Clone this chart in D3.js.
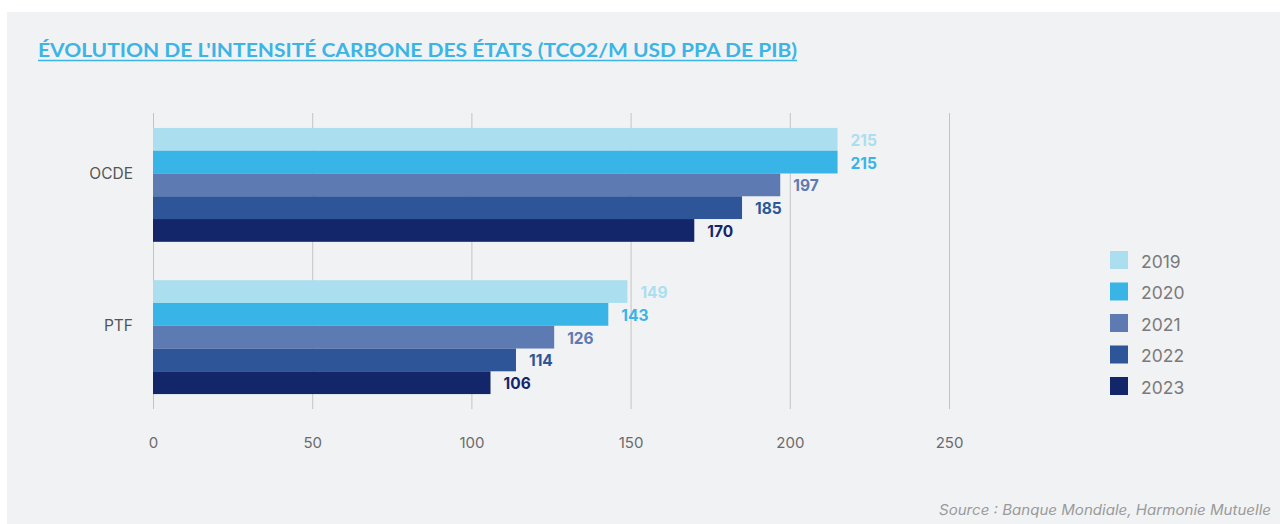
<!DOCTYPE html>
<html><head><meta charset="utf-8">
<script src="https://cdn.jsdelivr.net/npm/d3@7"></script>
<style>html,body{margin:0;padding:0;background:#fff;}svg{display:block;}</style>
</head><body>
<script>
const categories = ["OCDE", "PTF"];
const years = ["2019", "2020", "2021", "2022", "2023"];
const values2019 = [215, 149];
const values2020 = [215, 143];
const values2021 = [197, 126];
const values2022 = [185, 114];
const values2023 = [170, 106];
const xTicks = [0, 50, 100, 150, 200, 250];
const colors = ["#abdff0", "#38b5e6", "#5e7ab2", "#2d5598", "#14266a"];
const title = "ÉVOLUTION DE L'INTENSITÉ CARBONE DES ÉTATS (TCO2/M USD PPA DE PIB)";
const source = "Source : Banque Mondiale, Harmonie Mutuelle";

const seriesValues = [values2019, values2020, values2021, values2022, values2023];

const W = 1280, H = 524;
const svg = d3.select("body").append("svg").attr("width", W).attr("height", H);
svg.append("rect").attr("x", 7).attr("y", 12).attr("width", W - 7).attr("height", H - 12).attr("fill", "#f1f2f4");

const font = "Inter, 'Noto Sans', sans-serif";

// title
svg.append("text").attr("x", 38).attr("y", 57)
  .attr("font-family", "Lato, sans-serif").attr("font-weight", 700).attr("font-size", 19.5)
  .attr("fill", "#3bb5e6").attr("textLength", 759).attr("lengthAdjust", "spacingAndGlyphs")
  .text(title);
svg.append("line").attr("x1", 38).attr("x2", 797).attr("y1", 60.5).attr("y2", 60.5)
  .attr("stroke", "#3bb5e6").attr("stroke-width", 1.5);

const x = d3.scaleLinear().domain([0, 250]).range([153, 949]);
const y = d3.scaleBand().domain(categories).range([113, 409]).paddingInner(0.252).paddingOuter(0.098);
const ySub = d3.scaleBand().domain(years).range([0, y.bandwidth()]);

// gridlines
svg.append("g").selectAll("line").data(xTicks).join("line")
  .attr("x1", d => x(d) + 0.5).attr("x2", d => x(d) + 0.5)
  .attr("y1", 113).attr("y2", 409)
  .attr("stroke", "#c4c4c4").attr("stroke-width", 1);

// x axis labels
const xAxis = d3.axisBottom(x).tickValues(xTicks).tickSize(0).tickPadding(0);
const gx = svg.append("g").attr("transform", "translate(0,437)").call(xAxis);
gx.select(".domain").remove();
gx.selectAll("text").attr("font-family", font).attr("font-size", 15).attr("fill", "#6b6b6b");

// category labels
svg.append("g").selectAll("text").data(categories).join("text")
  .attr("x", 133).attr("y", d => y(d) + y.bandwidth() / 2 - 11.5)
  .attr("dy", "0.35em").attr("text-anchor", "end")
  .attr("font-family", font).attr("font-size", 15.5).attr("fill", "#555")
  .text(d => d);

// bars
years.forEach((yr, i) => {
  const g = svg.append("g");
  g.selectAll("rect").data(categories).join("rect")
    .attr("x", x(0)).attr("y", (d) => y(d) + ySub(yr))
    .attr("width", (d, j) => x(seriesValues[i][j]) - x(0))
    .attr("height", ySub.bandwidth())
    .attr("fill", colors[i]);
  g.selectAll("text").data(categories).join("text")
    .attr("x", (d, j) => x(seriesValues[i][j]) + 13)
    .attr("y", d => y(d) + ySub(yr) + ySub.bandwidth() / 2 + 1)
    .attr("dy", "0.36em")
    .attr("font-family", font).attr("font-weight", 700).attr("font-size", 15.5)
    .attr("fill", colors[i])
    .text((d, j) => seriesValues[i][j]);
});

// legend
const lg = svg.append("g").selectAll("g").data(years).join("g")
  .attr("transform", (d, i) => `translate(1110,${251 + i * 31.5})`);
lg.append("rect").attr("width", 18).attr("height", 18).attr("fill", (d, i) => colors[i]);
lg.append("text").attr("x", 31).attr("y", 10.5).attr("dy", "0.36em")
  .attr("font-family", font).attr("font-size", 17.5).attr("fill", "#7a7a7a").text(d => d);

// source
svg.append("text").attr("x", 1271).attr("y", 515).attr("text-anchor", "end")
  .attr("font-family", font).attr("font-style", "italic").attr("font-size", 14)
  .attr("fill", "#9a9a9a").attr("textLength", 332).attr("lengthAdjust", "spacingAndGlyphs")
  .text(source);
</script>
</body></html>
